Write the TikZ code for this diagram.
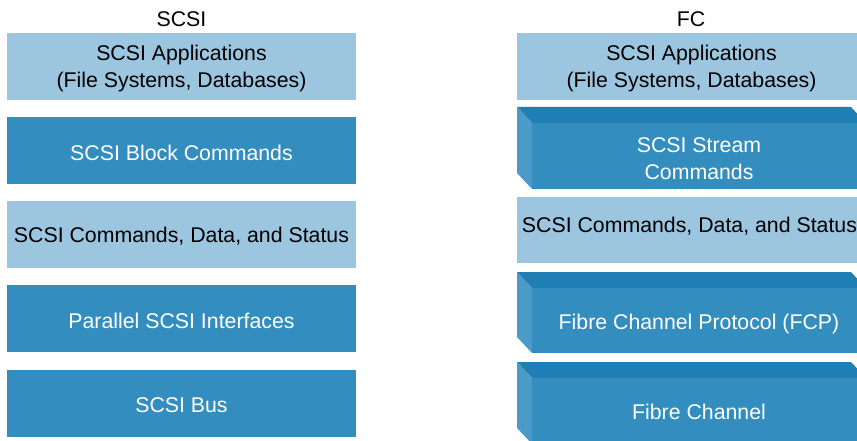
\documentclass[tikz,border=0pt]{standalone}
\usepackage{fontspec}
\setmainfont{Liberation Sans}
\usetikzlibrary{positioning}

\definecolor{lightblue}{HTML}{9CC5DF}
\definecolor{frontblue}{HTML}{338EBF}
\definecolor{topblue}{HTML}{1F7FB4}
\definecolor{sideblue}{HTML}{4B9AC7}

\begin{document}
\begin{tikzpicture}[x=1pt, y=-1pt, font=\fontsize{21.3}{27}\selectfont,
  lbl/.style={align=center, inner sep=0pt, text=black},
  wlbl/.style={lbl, text=white}]
  \clip (0,0) rectangle (857,441);
  % SCSI stack
  \node[lbl] (scsititle) at (181.5, 19) {SCSI};
  \fill[lightblue] (7, 33) rectangle (356, 100);
  \node[lbl] (scsiapp) at (181.5, 68.5) {SCSI Applications\\(File Systems, Databases)};
  \fill[frontblue] (7, 117) rectangle (356, 184);
  \node[wlbl] (blockcmd) at (181.5, 152.5) {SCSI Block Commands};
  \fill[lightblue] (7, 201) rectangle (356, 268);
  \node[lbl] (scsicds) at (181.5, 236.5) {SCSI Commands, Data, and Status};
  \fill[frontblue] (7, 285) rectangle (356, 352);
  \node[wlbl] (parallel) at (181.5, 320.5) {Parallel SCSI Interfaces};
  \fill[frontblue] (7, 370) rectangle (356, 437);
  \node[wlbl] (scsibus) at (181.5, 405.5) {SCSI Bus};
  % FC stack
  \node[lbl] (fctitle) at (691, 19) {FC};
  \fill[lightblue] (517, 33) rectangle (866, 100);
  \node[lbl] (fcapp) at (691.5, 68.5) {SCSI Applications\\(File Systems, Databases)};
  \fill[topblue]  (517, 107) -- (851, 107) -- (866, 123) -- (532, 123) -- cycle;
  \fill[sideblue] (517, 107) -- (532, 123) -- (532, 189) -- (517, 173) -- cycle;
  \fill[frontblue] (532, 123) rectangle (866, 189);
  \node[wlbl] (streamcmd) at (699, 158.5) {SCSI Stream\\Commands};
  \fill[lightblue] (517, 197) rectangle (866, 263);
  \node[lbl] (fccds) at (689.5, 226) {SCSI Commands, Data, and Status};
  \fill[topblue]  (517, 272) -- (851, 272) -- (866, 288) -- (532, 288) -- cycle;
  \fill[sideblue] (517, 272) -- (532, 288) -- (532, 353) -- (517, 337) -- cycle;
  \fill[frontblue] (532, 288) rectangle (866, 353);
  \node[wlbl] (fcp) at (699, 324) {Fibre Channel Protocol (FCP)};
  \fill[topblue]  (517, 362) -- (851, 362) -- (866, 378) -- (532, 378) -- cycle;
  \fill[sideblue] (517, 362) -- (532, 378) -- (532, 444) -- (517, 428) -- cycle;
  \fill[frontblue] (532, 378) rectangle (866, 444);
  \node[wlbl] (fibre) at (699, 412) {Fibre Channel};
\end{tikzpicture}
\end{document}
